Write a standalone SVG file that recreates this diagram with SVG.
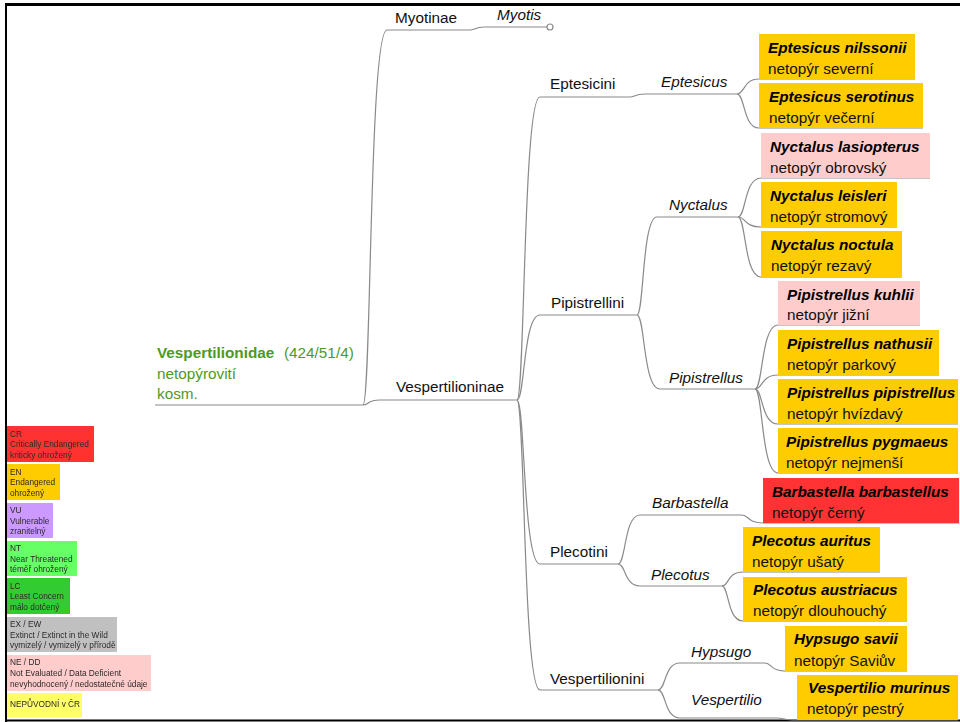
<svg xmlns="http://www.w3.org/2000/svg" width="960" height="722" viewBox="0 0 960 722">
  <defs>
    <style>
      text { font-family: "Liberation Sans", Arial, sans-serif; }
      .lbl { font-size: 15.3px; fill: #111; }
      .gen { font-size: 15.3px; fill: #111; font-style: italic; }
      .sp { font-size: 15.3px; fill: #000; font-weight: bold; font-style: italic; }
      .cz { font-size: 15.3px; fill: #111; }
      .root { font-size: 15.3px; fill: #4d9a1f; }
      .conn { fill: none; stroke: #8a8a8a; stroke-width: 1.2; }
      .lc { font-size: 8.3px; fill: #2a2a2a; }
      .gold { fill: #FFCC00; }
      .pink { fill: #FFCCCC; }
      .red { fill: #FF3333; }
      .frame { stroke: #000; fill: none; }
    </style>
    <filter id="soft" x="-5%" y="-5%" width="110%" height="110%">
      <feGaussianBlur stdDeviation="0.35"/>
    </filter>
  </defs>

  <rect x="0" y="0" width="960" height="722" fill="#fff"/>

  <!-- page frame -->
  <line class="frame" x1="5" y1="4.5" x2="960" y2="4.5" stroke-width="3"/>
  <line class="frame" x1="6" y1="3" x2="6" y2="722" stroke-width="2" stroke="#222"/>
  <line class="frame" x1="5" y1="720.5" x2="960" y2="720.5" stroke-width="2"/>

  <!-- connectors -->
  <g id="connectors" class="conn">
    <path d="M155 405 H363"/>
    <path d="M363 405 C371.4 405 369 30 387 30 H470"/>
    <path d="M470 30 C475 30 474 27 485 27 H547"/>
    <path d="M363 405 C369 405 367 400 380 400 H517"/>

    <path d="M517 400 C525 400 523 97 540 97 H630"/>
    <path d="M630 97 C635 97 634 94 645 94 H737"/>
    <path d="M737 94 C745 94 743 79 759 79 H915"/>
    <path d="M737 94 C745 94 743 128 759 128 H923"/>

    <path d="M517 400 C525 400 523 315 540 315 H637"/>
    <path d="M637 315 C644 315 642 217 657 217 H738"/>
    <path d="M738 217 C746 217 744 178 761 178 H930"/>
    <path d="M738 217 C746 217 744 227 761 227 H897"/>
    <path d="M738 217 C746 217 744 277 761 277 H902"/>
    <path d="M637 315 C645 315 643 389 660 389 H755"/>
    <path d="M755 389 C763 389 761 325 778 325 H920"/>
    <path d="M755 389 C763 389 761 375 778 375 H939"/>
    <path d="M755 389 C763 389 761 424 778 424 H958"/>
    <path d="M755 389 C763 389 761 473 778 473 H958"/>

    <path d="M517 400 C525 400 523 564 540 564 H618"/>
    <path d="M618 564 C626 564 624 515 640 515 H742"/>
    <path d="M742 515 C749 515 747 523 763 523 H959"/>
    <path d="M618 564 C626 564 624 586 640 586 H722"/>
    <path d="M722 586 C729 586 727 572 743 572 H880"/>
    <path d="M722 586 C729 586 727 621 743 621 H907"/>

    <path d="M517 400 C525 400 523 690 540 690 H658"/>
    <path d="M658 690 C666 690 664 663 680 663 H765"/>
    <path d="M765 663 C772 663 770 671 785 671 H907"/>
    <path d="M658 690 C666 690 664 718 680 718 H777"/>
    <path d="M777 718 C784 718 782 720 797 720 H958"/>
  </g>

  <!-- family -->
  <g id="vespertilionidae">
    <text class="root" x="157" y="358"><tspan font-weight="bold">Vespertilionidae</tspan></text>
    <text class="root" x="284" y="358">(424/51/4)</text>
    <text class="root" x="157" y="379">netopýrovití</text>
    <text class="root" x="157" y="399">kosm.</text>
  </g>

  <!-- subfamilies -->
  <g id="myotinae"><text class="lbl" x="395" y="23">Myotinae</text></g>
  <g id="myotis">
    <text class="gen" x="497" y="20">Myotis</text>
    <circle cx="550" cy="27" r="3" fill="#fff" stroke="#8a8a8a" stroke-width="1.2"/>
  </g>
  <g id="vespertilioninae"><text class="lbl" x="396" y="392">Vespertilioninae</text></g>

  <!-- tribes -->
  <g id="eptesicini"><text class="lbl" x="550" y="89">Eptesicini</text></g>
  <g id="pipistrellini"><text class="lbl" x="551" y="308">Pipistrellini</text></g>
  <g id="plecotini"><text class="lbl" x="550" y="557">Plecotini</text></g>
  <g id="vespertilionini"><text class="lbl" x="550" y="684">Vespertilionini</text></g>

  <!-- genera -->
  <g id="eptesicus"><text class="gen" x="661" y="87">Eptesicus</text></g>
  <g id="nyctalus"><text class="gen" x="669" y="210">Nyctalus</text></g>
  <g id="pipistrellus"><text class="gen" x="669" y="383">Pipistrellus</text></g>
  <g id="barbastella"><text class="gen" x="652" y="508">Barbastella</text></g>
  <g id="plecotus"><text class="gen" x="651" y="580">Plecotus</text></g>
  <g id="hypsugo"><text class="gen" x="691" y="657">Hypsugo</text></g>
  <g id="vespertilio"><text class="gen" x="691" y="705">Vespertilio</text></g>

  <!-- species -->
  <g id="e-nilssonii">
    <rect class="gold" x="759" y="34" width="156" height="45"/>
    <text class="sp" x="768" y="53">Eptesicus nilssonii</text>
    <text class="cz" x="768" y="74">netopýr severní</text>
  </g>
  <g id="e-serotinus">
    <rect class="gold" x="759" y="83" width="164" height="45"/>
    <text class="sp" x="769" y="102">Eptesicus serotinus</text>
    <text class="cz" x="769" y="123">netopýr večerní</text>
  </g>
  <g id="n-lasiopterus">
    <rect class="pink" x="761" y="133" width="169" height="45"/>
    <text class="sp" x="770" y="152">Nyctalus lasiopterus</text>
    <text class="cz" x="770" y="173">netopýr obrovský</text>
  </g>
  <g id="n-leisleri">
    <rect class="gold" x="761" y="182" width="136" height="45"/>
    <text class="sp" x="770" y="201">Nyctalus leisleri</text>
    <text class="cz" x="770" y="222">netopýr stromový</text>
  </g>
  <g id="n-noctula">
    <rect class="gold" x="761" y="231" width="141" height="46"/>
    <text class="sp" x="771" y="250">Nyctalus noctula</text>
    <text class="cz" x="771" y="271">netopýr rezavý</text>
  </g>
  <g id="p-kuhlii">
    <rect class="pink" x="778" y="281" width="142" height="44"/>
    <text class="sp" x="787" y="300">Pipistrellus kuhlii</text>
    <text class="cz" x="787" y="320">netopýr jižní</text>
  </g>
  <g id="p-nathusii">
    <rect class="gold" x="778" y="330" width="161" height="45"/>
    <text class="sp" x="787" y="349">Pipistrellus nathusii</text>
    <text class="cz" x="787" y="370">netopýr parkový</text>
  </g>
  <g id="p-pipistrellus">
    <rect class="gold" x="778" y="379" width="180" height="45"/>
    <text class="sp" x="787" y="398">Pipistrellus pipistrellus</text>
    <text class="cz" x="787" y="419">netopýr hvízdavý</text>
  </g>
  <g id="p-pygmaeus">
    <rect class="gold" x="778" y="428" width="180" height="45"/>
    <text class="sp" x="786" y="447">Pipistrellus pygmaeus</text>
    <text class="cz" x="786" y="468">netopýr nejmenší</text>
  </g>
  <g id="b-barbastellus">
    <rect class="red" x="763" y="478" width="196" height="45"/>
    <text class="sp" x="772" y="497">Barbastella barbastellus</text>
    <text class="cz" x="772" y="518">netopýr černý</text>
  </g>
  <g id="p-auritus">
    <rect class="gold" x="743" y="527" width="137" height="45"/>
    <text class="sp" x="752" y="546">Plecotus auritus</text>
    <text class="cz" x="752" y="567">netopýr ušatý</text>
  </g>
  <g id="p-austriacus">
    <rect class="gold" x="743" y="577" width="164" height="44"/>
    <text class="sp" x="753" y="595">Plecotus austriacus</text>
    <text class="cz" x="753" y="616">netopýr dlouhouchý</text>
  </g>
  <g id="h-savii">
    <rect class="gold" x="785" y="626" width="122" height="45"/>
    <text class="sp" x="794" y="644">Hypsugo savii</text>
    <text class="cz" x="794" y="666">netopýr Saviův</text>
  </g>
  <g id="v-murinus">
    <rect class="gold" x="797" y="675" width="161" height="45"/>
    <text class="sp" x="808" y="693">Vespertilio murinus</text>
    <text class="cz" x="807" y="714">netopýr pestrý</text>
  </g>

  <!-- status legend -->
  <g id="legend" filter="url(#soft)">
    <g id="lg-cr">
      <rect x="7" y="426" width="87" height="36" fill="#FF3333"/>
      <text class="lc" x="10" y="437">CR</text>
      <text class="lc" x="10" y="447">Critically Endangered</text>
      <text class="lc" x="10" y="458">kriticky ohrožený</text>
    </g>
    <g id="lg-en">
      <rect x="7" y="464" width="53" height="36" fill="#FFCC00"/>
      <text class="lc" x="10" y="475">EN</text>
      <text class="lc" x="10" y="485">Endangered</text>
      <text class="lc" x="10" y="496">ohrožený</text>
    </g>
    <g id="lg-vu">
      <rect x="7" y="503" width="46" height="35" fill="#CC99FF"/>
      <text class="lc" x="10" y="513">VU</text>
      <text class="lc" x="10" y="524">Vulnerable</text>
      <text class="lc" x="10" y="534">zranitelný</text>
    </g>
    <g id="lg-nt">
      <rect x="7" y="541" width="70" height="35" fill="#66FF66"/>
      <text class="lc" x="10" y="551">NT</text>
      <text class="lc" x="10" y="562">Near Threatened</text>
      <text class="lc" x="10" y="572">téměř ohrožený</text>
    </g>
    <g id="lg-lc">
      <rect x="7" y="578" width="63" height="36" fill="#33CC33"/>
      <text class="lc" x="10" y="589">LC</text>
      <text class="lc" x="10" y="599">Least Concern</text>
      <text class="lc" x="10" y="610">málo dotčený</text>
    </g>
    <g id="lg-ex">
      <rect x="7" y="617" width="110" height="35" fill="#C0C0C0"/>
      <text class="lc" x="10" y="627">EX / EW</text>
      <text class="lc" x="10" y="638">Extinct / Extinct in the Wild</text>
      <text class="lc" x="10" y="648">vymizelý / vymizelý v přírodě</text>
    </g>
    <g id="lg-ne">
      <rect x="7" y="655" width="144" height="36" fill="#FFCCCC"/>
      <text class="lc" x="10" y="665">NE / DD</text>
      <text class="lc" x="10" y="676">Not Evaluated / Data Deficient</text>
      <text class="lc" x="10" y="687">nevyhodnocený / nedostatečné údaje</text>
    </g>
    <g id="lg-np">
      <rect x="7" y="693" width="75" height="24" fill="#FFFF66"/>
      <text class="lc" x="10" y="707">NEPŮVODNÍ v ČR</text>
    </g>
  </g>
</svg>
